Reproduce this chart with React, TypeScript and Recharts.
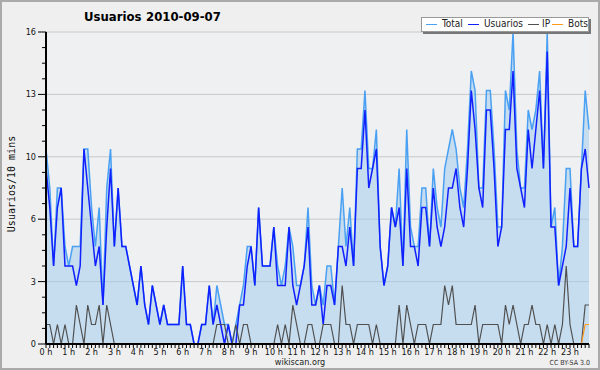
import React from 'react';
import { ComposedChart, Area, Line, XAxis, YAxis, CartesianGrid, Legend } from 'recharts';

const usuarios = [
  9, 7, 4, 7, 8, 4, 4, 4, 3, 4,
  10, 8, 6, 4, 5, 2, 6, 9, 5, 8,
  5, 5, 4, 3, 2, 4, 2, 1, 3, 2,
  1, 2, 1, 1, 1, 1, 4, 1, 1, 0,
  0, 1, 1, 3, 1, 2, 1, 0, 1, 0,
  0, 2, 2, 4, 5, 3, 7, 4, 4, 4,
  6, 3, 3, 3, 6, 3, 2, 3, 4, 6,
  2, 2, 3, 1, 3, 3, 2, 5, 5, 4,
  6, 4, 9, 9, 12, 8, 9, 10, 5, 3,
  4, 7, 6, 7, 4, 9, 5, 5, 4, 7,
  7, 5, 8, 6, 5, 6, 8, 8, 9, 7,
  6, 9, 13, 11, 8, 7, 12, 12, 9, 5,
  6, 11, 11, 14, 9, 8, 7, 11, 9, 11,
  13, 9, 15, 6, 6, 3, 4, 5, 8, 5,
  5, 9, 10, 8,
];

const ip = [
  1, 1, 0, 1, 0, 1, 0, 0, 2, 1,
  0, 2, 1, 1, 2, 0, 2, 1, 0, 0,
  0, 0, 0, 0, 0, 0, 0, 0, 0, 0,
  0, 0, 0, 0, 0, 0, 0, 0, 0, 0,
  0, 0, 0, 0, 0, 1, 1, 1, 0, 0,
  1, 0, 1, 1, 0, 0, 0, 0, 0, 0,
  0, 1, 0, 1, 0, 2, 1, 0, 0, 1,
  1, 0, 0, 1, 1, 1, 0, 0, 3, 1,
  1, 0, 1, 1, 1, 1, 0, 1, 0, 0,
  0, 0, 0, 2, 0, 2, 1, 0, 1, 1,
  1, 0, 1, 1, 1, 3, 2, 3, 1, 1,
  1, 1, 1, 2, 0, 1, 1, 1, 1, 1,
  0, 2, 1, 2, 1, 0, 1, 1, 2, 1,
  1, 0, 1, 0, 1, 0, 1, 4, 1, 0,
  0, 0, 2, 2,
];

const bots = [
  0, 0, 0, 0, 0, 0, 0, 0, 0, 0,
  0, 0, 0, 0, 0, 0, 0, 0, 0, 0,
  0, 0, 0, 0, 0, 0, 0, 0, 0, 0,
  0, 0, 0, 0, 0, 0, 0, 0, 0, 0,
  0, 0, 0, 0, 0, 0, 0, 0, 0, 0,
  0, 0, 0, 0, 0, 0, 0, 0, 0, 0,
  0, 0, 0, 0, 0, 0, 0, 0, 0, 0,
  0, 0, 0, 0, 0, 0, 0, 0, 0, 0,
  0, 0, 0, 0, 0, 0, 0, 0, 0, 0,
  0, 0, 0, 0, 0, 0, 0, 0, 0, 0,
  0, 0, 0, 0, 0, 0, 0, 0, 0, 0,
  0, 0, 0, 0, 0, 0, 0, 0, 0, 0,
  0, 0, 0, 0, 0, 0, 0, 0, 0, 0,
  0, 0, 0, 0, 0, 0, 0, 0, 0, 0,
  0, 0, 1, 1,
];

const total = [
  10, 8, 4, 8, 8, 5, 4, 5, 5, 5,
  10, 10, 7, 5, 7, 2, 8, 10, 5, 8,
  5, 5, 4, 3, 2, 4, 2, 1, 3, 2,
  1, 2, 1, 1, 1, 1, 4, 1, 1, 0,
  0, 1, 1, 3, 1, 3, 2, 1, 1, 0,
  1, 2, 3, 5, 5, 3, 7, 4, 4, 4,
  6, 4, 3, 4, 6, 5, 3, 3, 4, 7,
  3, 2, 3, 2, 4, 4, 2, 5, 8, 5,
  7, 4, 10, 10, 13, 9, 9, 11, 5, 3,
  4, 7, 6, 9, 4, 11, 6, 5, 5, 8,
  8, 5, 9, 7, 6, 9, 10, 11, 10, 8,
  7, 10, 14, 13, 8, 8, 13, 13, 10, 6,
  6, 13, 12, 16, 10, 8, 8, 12, 11, 12,
  14, 9, 16, 6, 7, 3, 5, 9, 9, 5,
  5, 9, 13, 11,
];

const hourLabels = [
  '0 h', '1 h', '2 h', '3 h', '4 h', '5 h', '6 h', '7 h', '8 h', '9 h', '10 h', '11 h',
  '12 h', '13 h', '14 h', '15 h', '16 h', '17 h', '18 h', '19 h', '20 h', '21 h', '22 h', '23 h',
];

const yTicks = [0, 0.8, 1.6, 2.4, 3.2, 4, 4.8, 5.6, 6.4, 7.2, 8, 8.8, 9.6, 10.4, 11.2, 12, 12.8, 13.6, 14.4, 15.2, 16];
const yMajorLabels = ['0', '3', '6', '10', '13', '16'];
const gridValues = [3.2, 6.4, 9.6, 12.8, 16];

const seriesNames = ['Total', 'Usuarios', 'IP', 'Bots'];
const COLORS = { total: '#4aa0f2', fill: '#9ecaee', usuarios: '#1020ff', ip: '#505050', bots: '#ff9a1a' };
const FONT = '"DejaVu Sans Condensed", "Liberation Sans", sans-serif';

const data = usuarios.map((u, i) => ({ i, usuarios: u, ip: ip[i], bots: bots[i], total: total[i] }));
const xTicks = data.map((d) => d.i);

const XTick = (props: any) => {
  const { x, y, payload } = props;
  const v = payload.value as number;
  const isHour = v % 6 === 0;
  return (
    <g>
      <line x1={x} x2={x} y1={y} y2={y + 4} stroke="#000" strokeWidth={1} />
      {isHour && (
        <text x={x} y={y + 11} textAnchor="middle" fontSize={9} fontFamily={FONT} fill="#111">
          {hourLabels[v / 6]}
        </text>
      )}
    </g>
  );
};

const YTick = (props: any) => {
  const { x, y, index } = props;
  const major = index % 4 === 0;
  return (
    <g>
      <line x1={x - (major ? 8 : 4)} x2={x} y1={y} y2={y} stroke="#000" strokeWidth={1} />
      {major && (
        <text x={x - 10} y={y + 3} textAnchor="end" fontSize={9} fontFamily={FONT} fill="#111">
          {yMajorLabels[index / 4]}
        </text>
      )}
    </g>
  );
};

const legendColors = [COLORS.total, COLORS.usuarios, COLORS.ip, COLORS.bots];
const legendSwatchLeft = [4, 46, 106, 130];
const legendTextLeft = [20, 62, 120, 146];

const LegendBox = () => (
  <div
    style={{
      position: 'relative',
      width: 166,
      height: 13,
      background: '#fff',
      border: '1px solid #999',
      boxShadow: '2px 2px 0 #777',
      fontFamily: FONT,
      fontSize: 10,
      color: '#222',
      whiteSpace: 'nowrap',
    }}
  >
    {seriesNames.map((n, k) => (
      <React.Fragment key={n}>
        <span
          style={{
            position: 'absolute',
            left: legendSwatchLeft[k],
            top: 6,
            width: 11,
            height: 0,
            borderTop: `1.5px solid ${legendColors[k]}`,
          }}
        />
        <span style={{ position: 'absolute', left: legendTextLeft[k], top: -1, lineHeight: '14px' }}>{n}</span>
      </React.Fragment>
    ))}
  </div>
);

export default function App() {
  return (
    <div style={{ position: 'absolute', left: 0, top: 0, width: 600, height: 370, background: '#efefef', overflow: 'hidden' }}>
      <ComposedChart width={600} height={370} data={data} margin={{ top: 32, right: 11, bottom: 6, left: 6 }}>
        <CartesianGrid
          horizontal
          vertical={false}
          horizontalValues={gridValues}
          stroke="#c8c8c8"
          strokeWidth={1}
          fill="#eef0f2"
        />
        <Area
          type="linear"
          dataKey="total"
          stroke={COLORS.total}
          strokeWidth={1.5}
          fill={COLORS.fill}
          fillOpacity={0.5}
          dot={false}
          activeDot={false}
          isAnimationActive={false}
        />
        <Line type="linear" dataKey="usuarios" stroke={COLORS.usuarios} strokeWidth={1.5} dot={false} activeDot={false} isAnimationActive={false} />
        <Line type="linear" dataKey="ip" stroke={COLORS.ip} strokeWidth={1.2} dot={false} activeDot={false} isAnimationActive={false} />
        <Line type="linear" dataKey="bots" stroke={COLORS.bots} strokeWidth={1.2} dot={false} activeDot={false} isAnimationActive={false} />
        <XAxis
          type="number"
          dataKey="i"
          domain={[0, 143]}
          ticks={xTicks}
          interval={0}
          height={20}
          tickSize={0}
          tickMargin={0}
          tickLine={false}
          tick={<XTick />}
          axisLine={{ stroke: '#000', strokeWidth: 2 }}
        />
        <YAxis
          type="number"
          domain={[0, 16]}
          ticks={yTicks}
          interval={0}
          width={40}
          tickSize={0}
          tickMargin={0}
          tickLine={false}
          tick={<YTick />}
          axisLine={{ stroke: '#000', strokeWidth: 2 }}
        />
        <Legend
          layout="horizontal"
          verticalAlign="middle"
          align="center"
          content={<LegendBox />}
          wrapperStyle={{ position: 'absolute', left: 421, top: 17, width: 'auto', height: 'auto' }}
        />
      </ComposedChart>
      <svg width={600} height={370} style={{ position: 'absolute', left: 0, top: 0, pointerEvents: 'none' }}>
        <text x={84} y={21} fontSize={13} fontWeight="bold" fontFamily={FONT} fill="#000">Usuarios</text>
        <text x={146} y={21} fontSize={13} fontWeight="bold" fontFamily={FONT} fill="#000">2010-09-07</text>
        <text
          x={11}
          y={184}
          transform="rotate(-90 11 184)"
          textAnchor="middle"
          dominantBaseline="central"
          fontSize={10}
          fontFamily='"DejaVu Sans Mono", monospace'
          fill="#111"
        >
          Usuarios/10 mins
        </text>
        <text x={300} y={365} textAnchor="middle" fontSize={9} fontFamily={FONT} fill="#222">wikiscan.org</text>
        <text x={590} y={365} textAnchor="end" fontSize={7} fontFamily={FONT} fill="#333">CC BY-SA 3.0</text>
        <rect x={1} y={1} width={598} height={368} fill="none" stroke="#aaa" strokeWidth={2} />
      </svg>
    </div>
  );
}
